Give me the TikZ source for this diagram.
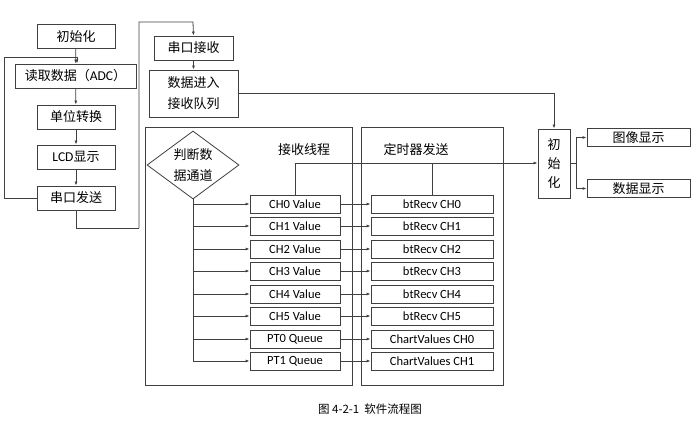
\documentclass[tikz,border=0pt]{standalone}
\usepackage{fontspec}
\setmainfont{Carlito}
\newfontfamily\cjk{Noto Sans CJK SC}
\usetikzlibrary{shapes.geometric,arrows.meta}
\begin{document}
\begin{tikzpicture}[x=1pt,y=-1pt,font=\cjk\fontsize{13}{15}\selectfont,
  bx/.style={draw=black!75,line width=0.8pt,inner sep=0pt,minimum height=24pt},
  sb/.style={draw=black!75,line width=0.8pt,inner sep=0pt,minimum height=18pt},
  ln/.style={draw=black!75,line width=0.8pt},
  ar/.style={ln,-{Latex[length=4pt,width=3pt]}}]
\useasboundingbox (0,0) rectangle (698,422);
\node[bx,minimum width=78pt] (a1) at (76,36.5) {初始化};
\node[bx,minimum width=121pt] (a2) at (75.5,76) {读取数据（{\rmfamily\fontsize{13.5}{15}\selectfont ADC}）};
\node[bx,minimum width=78pt] (a3) at (76,117) {单位转换};
\node[bx,minimum width=78pt] (a4) at (76,157) {{\rmfamily\fontsize{13.5}{15}\selectfont LCD}显示};
\node[bx,minimum width=78pt] (a5) at (76,198) {串口发送};
\node[bx,minimum width=79pt] (b1) at (193.5,48) {串口接收};
\node[bx,minimum width=89pt,minimum height=47pt,align=center] (b2) at (193.5,93.5) {数据进入\\[6pt]接收队列};
\node[ln,minimum width=207pt,minimum height=258pt,inner sep=0pt] (o1) at (248.5,256) {};
\node[ln,minimum width=142pt,minimum height=258pt,inner sep=0pt] (o2) at (432,256) {};
\node[ln,diamond,aspect=1.35,minimum width=92pt,minimum height=68pt,inner sep=0pt,align=center,fill=white] (d) at (193,165) {判断数\\[6pt]据通道};
\node (t1) at (304,150) {接收线程};
\node (t2) at (416,150) {定时器发送};
\node[bx,minimum width=32pt,minimum height=69pt,align=center] (c) at (554,163.5) {初\\[4pt]始\\[4pt]化};
\node[sb,minimum width=103pt] (g1) at (638.5,137.5) {图像显示};
\node[sb,minimum width=103pt] (g2) at (638.5,188.5) {数据显示};
\node[font=\cjk\fontsize{11.5}{13}\selectfont] (cap) at (370,409) {图 4-2-1\ \ 软件流程图};
\foreach \i/\l/\r [count=\k from 0] in {204/CH0 Value/btRecv CH0,226/CH1 Value/btRecv CH1,249/CH2 Value/btRecv CH2,271/CH3 Value/btRecv CH3,294/CH4 Value/btRecv CH4,316/CH5 Value/btRecv CH5,339/PT0 Queue/ChartValues CH0,361/PT1 Queue/ChartValues CH1}{
  \node[sb,minimum width=90pt,font=\fontsize{12.5}{14}\selectfont] (L\k) at (295,\i) {\l};
  \node[sb,minimum width=122pt,font=\fontsize{12.5}{14}\selectfont] (R\k) at (432,\i) {\r};
  \coordinate (v\k) at (193,\i);
  \draw[ar] (v\k) -- (L\k);
  \draw[ar] (L\k) -- (R\k);
}
\draw[ln] (d.south) -- (v7);
\draw[ar] (a1) -- (a2);
\draw[ar] (a2) -- (a3);
\draw[ar] (a3) -- (a4);
\draw[ar] (a4) -- (a5);
\coordinate (lp) at (77,57);
\draw[ln] (a5.west) -| (4,57) -- (lp);
\draw[ar] (lp) -- (a2.north -| lp);
\coordinate (k1) at (139,228);
\draw[ln] (a5.south) |- (k1);
\draw[ar] (k1) |- (193,22) -- (b1.north);
\draw[ar] (b1) -- (b2);
\draw[ar] (b2.east) -| (c.north);
\coordinate (j) at (432,163);
\draw[ln] (L0.north) |- (j);
\draw[ln] (R0.north) -- (j);
\draw[ar] (j) -- (c.west |- j);
\coordinate (sp) at (576,163);
\draw[ln] (c.east |- sp) -- (sp);
\draw[ar] (sp) |- (g1.west);
\draw[ar] (sp) |- (g2.west);
\end{tikzpicture}
\end{document}
